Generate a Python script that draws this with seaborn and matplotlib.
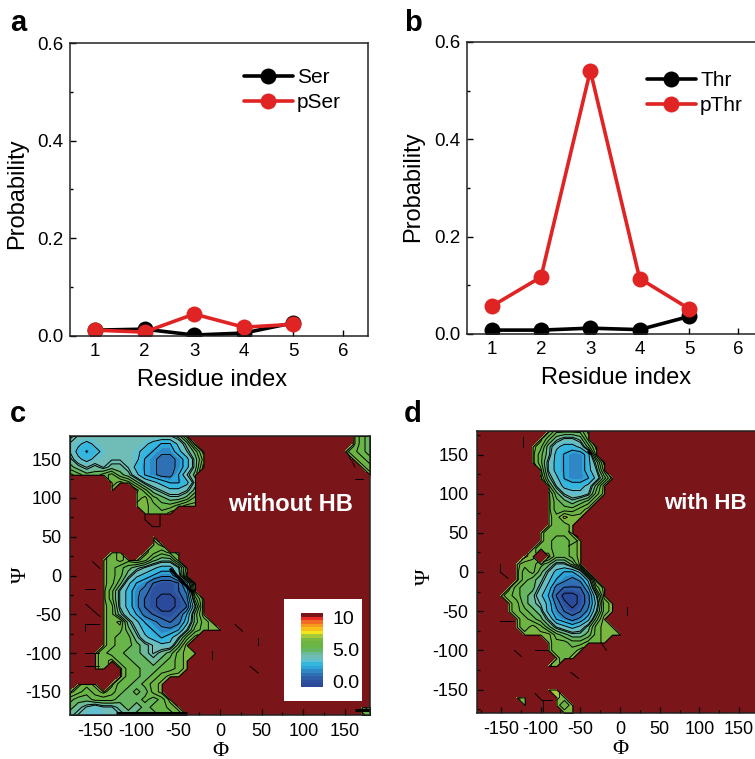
"""Residue probabilities (a, b) and Ramachandran free energy maps (c, d)."""

import matplotlib

matplotlib.use("Agg")

import matplotlib.pyplot as plt
import matplotlib.transforms as mtrans
import numpy as np
import pandas as pd
import seaborn as sns
from matplotlib.colors import BoundaryNorm, ListedColormap
from matplotlib.ticker import MultipleLocator

sns.set_theme(style="ticks")
plt.rcParams["font.family"] = ["Liberation Sans", "DejaVu Sans"]
plt.rcParams["axes.unicode_minus"] = False
plt.rcParams["text.color"] = "black"
plt.rcParams["axes.labelcolor"] = "black"
plt.rcParams["xtick.color"] = "black"
plt.rcParams["ytick.color"] = "black"

W, H = 755, 759

residues = [1, 2, 3, 4, 5]
ser = [0.012, 0.014, 0.002, 0.006, 0.027]
pser = [0.012, 0.008, 0.045, 0.018, 0.024]
thr = [0.008, 0.008, 0.012, 0.009, 0.036]
pthr = [0.057, 0.117, 0.541, 0.114, 0.052]

# energy grids, 10 deg bins: each char is base-36 in half units, "." = empty bin,
# text after "|" is right aligned. First row is psi=180, first column phi=-180.
phi_bins = list(range(-180, 190, 10))
psi_bins = list(range(180, -190, -10))

map_without_hb = [
    "98888888888889C|DBA",
    "876788888765579D|DBA",
    "865678887654468AD|DCBA",
    "9767888875433469C|DCB",
    "A989899865433469D|DC",
    "CBAABCA97543358A|D",
    ".....CDCA8765569",
    ".....D..DB98778A",
    "........CDBA99AC",
    "........DDCBBCDD",
    ".........DCCD",
    "",
    "",
    "..........D",
    "..........CD",
    ".....CD..DCBCD",
    "....DCDCDCA99C",
    "....DCBA987668C",
    "....DCB9765447D",
    "....DCA75421126D",
    "....DB864311124C",
    "....DB864210013AD",
    "....DC8642100128D",
    "....DC975321125AD",
    "....DCD97543236ACD",
    "....DCCA8654458BCDD",
    "....DCBB976568BD",
    "....DCBBA9877AD",
    "...DCBBAA989ACDD",
    "...DCDBBAA9ABCD",
    "...DC.DBBAABBCD",
    "......DBBABCDD",
    ".DCD.DBBABCD",
    "DCBCDCBABACD",
    "BAABBBAAABABD",
    "A987889A9ABBCD|CB",
    "98777889AAABBCD|DC",
]

map_with_hb = [
    ".........DBBBBD",
    "........DB9889C",
    ".......DC97667AD",
    ".......DB965446C",
    ".......DB8654469D",
    "........C8654468C",
    "........D9754457AD",
    ".........B86667AD",
    ".........DA8778BD",
    ".........DBA9ABD",
    ".........DBBBCD",
    ".........DCEDD",
    ".........DCCD",
    "........DCCCD",
    "........DCBBCD",
    ".......DCCBBCD",
    "......ED.DBBCD",
    ".....DCCBA88AD",
    ".....DBCA86557D",
    ".....DBA9754347D",
    "....DBAA8632225BD",
    "...DCBA975200138D",
    "....DCA986310137CD",
    "....DCBA96421248CD",
    ".....DCBA854346AD",
    ".....DCDCA87679CDD",
    "......DDDDBA99ACDDD",
    ".........DCCBBCCD",
    ".........DCCCD",
    "..........DCD",
    ".........ED",
    "",
    "",
    ".........EE",
    ".....ED...ED",
    "......D...DCD",
    "...........DD",
]

# stray contour pieces: phi values, psi values
strays_without_hb = [
    ([18, 27], [-63, -72]), ([36, 46], [-117, -126]), ([45, 45], [-80, -90]),
    ([-9, -9], [-98, -108]), ([-153, -144], [18, 9]), ([-162, -150], [-18, -18]),
    ([-161, -144], [-37, -53]), ([-162, -145], [-63, -63]), ([-162, -162], [-63, -72]),
    ([-162, -145], [-100, -100]), ([-162, -145], [-117, -117]),
    ([-90, -90, -81, -72, -72], [80, 72, 63, 63, 78]),
    ([152, 162], [160, 140]), ([162, 172], [125, 125]),
]
thick_without_hb = [([-125, -40], [-178, -178]), ([162, 180], [-173, -173]), ([-60, -32], [9, -23])]

strays_with_hb = [
    ([-122, -122], [172, 160]), ([-151, -151], [10, 0]), ([-151, -141], [0, -8]),
    ([-151, -133], [-63, -63]), ([9, 9], [-45, -55]), ([-133, -124], [-100, -108]),
    ([-107, -91], [-100, -100]), ([-62, -52], [-128, -136]), ([-107, -97], [-155, -165]),
    ([-97, -97], [-163, -180]), ([-97, -85], [-163, -163]),
    ([-24, -17], [-90, -100]), ([-65, -53], [33, 40]), ([-65, -53], [52, 45]),
]
thick_with_hb = [([-40, -36], [155, 150])]

band_colors = [
    "#2b4a9c", "#2d519f", "#2f5ea8", "#2f70b5", "#2f87c5", "#2ea3d8", "#34b6de",
    "#60bfcf", "#6fbdb6", "#6cb99d", "#66b560", "#68b54a", "#6cb544", "#7ab842",
    "#a6c93a", "#f2e51e", "#f9c01b", "#f69a1f", "#f26d21", "#ec2a26", "#7a1519",
]
RED_BG = "#7a1519"


def decode(rows):
    grid = np.full((len(psi_bins), len(phi_bins)), np.nan)
    for i, row in enumerate(rows):
        left, _, right = row.partition("|")
        for j, ch in enumerate(left):
            if ch != ".":
                grid[i, j] = int(ch, 36) / 2
        for j, ch in enumerate(right):
            grid[i, len(phi_bins) - len(right) + j] = int(ch, 36) / 2
    return grid


fig = plt.figure(figsize=(W / 100, H / 100), dpi=100)
px = mtrans.Affine2D().scale(1 / W, -1 / H).translate(0, 1) + fig.transFigure


def add_axes_px(left, top, right, bottom, **kw):
    return fig.add_axes([left / W, 1 - bottom / H, (right - left) / W, (bottom - top) / H], **kw)


def style_spines(ax):
    for s in ax.spines.values():
        s.set_visible(True)
        s.set_linewidth(1.1)
        s.set_color("#222222")


def plot_prob(box, names, s1, s2, leg_anchor, ylab_xy, xlab_xy):
    ax = add_axes_px(*box)
    df = pd.DataFrame({
        "residue": residues * 2,
        "prob": s1 + s2,
        "series": [names[0]] * 5 + [names[1]] * 5,
    })
    sns.lineplot(data=df, x="residue", y="prob", hue="series", hue_order=names,
                 palette=["black", "#e02424"], marker="o", markersize=11.5,
                 markeredgewidth=0, linewidth=2.6, errorbar=None, ax=ax)
    ax.set_xlim(0.5, 6.5)
    ax.set_ylim(0, 0.6)
    ax.set_xticks([1, 2, 3, 4, 5, 6])
    ax.set_yticks([0, 0.2, 0.4, 0.6])
    ax.set_yticklabels(["0.0", "0.2", "0.4", "0.6"])
    ax.yaxis.set_minor_locator(MultipleLocator(0.1))
    ax.tick_params(axis="both", which="major", direction="in", length=4.5, width=1,
                   labelsize=13.5, pad=5)
    ax.tick_params(axis="y", which="minor", direction="in", length=2.5, width=1)
    ax.set_xlabel("Residue index", fontsize=17, va="center")
    ax.set_ylabel("Probability", fontsize=17, va="center")
    ax.xaxis.set_label_coords(*xlab_xy, transform=px)
    ax.yaxis.set_label_coords(*ylab_xy, transform=px)
    style_spines(ax)
    ax.legend(frameon=False, loc="upper left", bbox_to_anchor=leg_anchor,
              bbox_transform=px, fontsize=15, handlelength=2.35, handletextpad=0.2,
              labelspacing=0.3, borderpad=0, borderaxespad=0, title=None)
    return ax


def plot_map(box, rows, strays, thick, label, label_xy, label_size, psi_xy, phi_xy):
    ax = add_axes_px(*box)
    ax.set_facecolor(RED_BG)
    Z = decode(rows)
    fill_levels = np.arange(-0.25, 10.3, 0.5)
    # denser lines in the green part, as in the original map
    line_levels = np.concatenate([np.arange(0.3, 4.2, 0.75), np.arange(4.3, 7.5, 0.5)])
    cmap = ListedColormap(band_colors)
    norm = BoundaryNorm(fill_levels, cmap.N)
    ax.contourf(phi_bins, psi_bins, Z, levels=fill_levels, cmap=cmap, norm=norm)
    ax.contour(phi_bins, psi_bins, Z, levels=line_levels, colors="black",
               linewidths=0.7, linestyles="solid")
    outline = ax.contourf(phi_bins, psi_bins, Z, levels=[-1, 11], colors="none")
    outline.set_edgecolor("black")
    outline.set_linewidth(0.8)
    for xs, ys in strays:
        ax.plot(xs, ys, color="black", lw=0.7)
    for xs, ys in thick:
        ax.plot(xs, ys, color="black", lw=2.2, solid_capstyle="butt")
    ax.set_xlim(-180, 180)
    ax.set_ylim(-180, 180)
    ax.set_xticks([-150, -100, -50, 0, 50, 100, 150])
    ax.set_yticks([-150, -100, -50, 0, 50, 100, 150])
    ax.xaxis.set_minor_locator(MultipleLocator(25))
    ax.yaxis.set_minor_locator(MultipleLocator(25))
    ax.tick_params(axis="both", which="major", direction="in", length=4, width=0.9,
                   labelsize=13, pad=6)
    ax.tick_params(axis="both", which="minor", direction="in", length=2.2, width=0.9)
    ax.set_xlabel("\u03a6", family="Liberation Serif", fontsize=16, va="center")
    ax.set_ylabel("\u03a8", family="Liberation Serif", fontsize=16, va="center")
    ax.xaxis.set_label_coords(*phi_xy, transform=px)
    ax.yaxis.set_label_coords(*psi_xy, transform=px)
    style_spines(ax)
    ax.text(*label_xy, label, color="white", fontsize=label_size, fontweight="bold",
            ha="center", va="center")
    return ax


plot_prob((70, 43, 368, 336), ["Ser", "pSer"], ser, pser, (244, 68), (17, 194), (212, 380))
plot_prob((467, 42, 763, 334), ["Thr", "pThr"], thr, pthr, (647, 71), (413, 187), (616, 378))

cmap_strip = ListedColormap(band_colors)
plot_map((70, 436, 370, 715), map_without_hb, strays_without_hb, thick_without_hb,
         "without HB", (84, 91), 17, (21, 575), (220, 751))
plot_map((477, 431, 763, 713), map_with_hb, strays_with_hb, thick_with_hb,
         "with HB", (107, 87), 16, (425, 577), (620, 750))

# colour key on panel c
key_box = add_axes_px(284, 599, 362, 701, facecolor="white", zorder=5)
key_box.set_xticks([])
key_box.set_yticks([])
for s in key_box.spines.values():
    s.set_visible(False)
key_ax = add_axes_px(301, 613, 323, 687, zorder=6)
key_values = np.arange(len(band_colors))[::-1].reshape(-1, 1)
sns.heatmap(key_values, cmap=cmap_strip, cbar=False, xticklabels=False, yticklabels=False,
            ax=key_ax)
for lab, y in zip(["10", "5.0", "0.0"], [619, 652, 684]):
    fig.text(332, y, lab, transform=px, fontsize=14, ha="left", va="center", zorder=7)

for letter, x, y in [("a", 10, 31), ("b", 404, 31), ("c", 10, 422), ("d", 404, 422)]:
    fig.text(x, y, letter, transform=px, fontsize=21, fontweight="bold", ha="left",
             va="baseline")

fig.savefig("out.png", dpi=100)
